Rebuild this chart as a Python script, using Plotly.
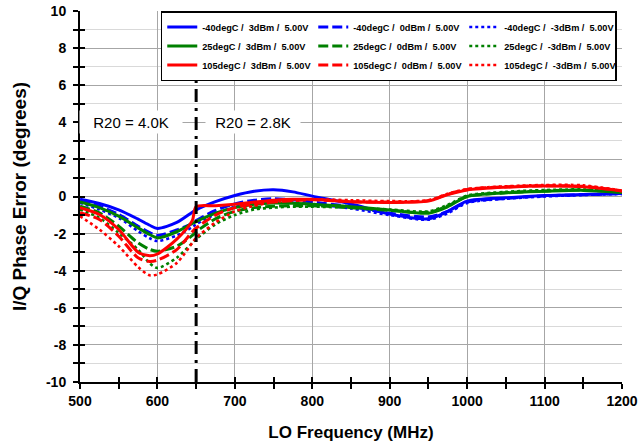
import plotly.graph_objects as go

freq = [500, 525, 550, 575, 590, 600, 625, 645, 650, 675, 700, 725, 750, 775, 800,
        850, 900, 950, 975, 1000, 1050, 1100, 1150, 1200]

m40_3 = [-0.15, -0.38, -0.72, -1.22, -1.55, -1.72, -1.40, -0.85, -0.72, -0.28, 0.05, 0.28, 0.36, 0.25, 0.02,
         -0.40, -0.95, -1.20, -0.80, -0.25, -0.07, 0.05, 0.11, 0.16]
m40_0 = [-0.25, -0.52, -0.97, -1.60, -1.95, -2.10, -1.80, -1.45, -1.30, -0.75, -0.40, -0.20, -0.12, -0.18, -0.30,
         -0.55, -0.90, -1.10, -0.80, -0.30, -0.10, 0.03, 0.10, 0.15]
m40_m3 = [-0.34, -0.70, -1.15, -1.87, -2.25, -2.40, -2.10, -1.65, -1.50, -0.95, -0.55, -0.35, -0.30, -0.32, -0.40,
          -0.65, -1.00, -1.25, -0.90, -0.35, -0.12, 0.00, 0.08, 0.14]
p25_3 = [-0.30, -0.60, -1.06, -1.69, -2.05, -2.23, -1.90, -1.45, -1.35, -0.90, -0.60, -0.42, -0.35, -0.37, -0.42,
         -0.55, -0.73, -0.90, -0.55, 0.00, 0.20, 0.28, 0.33, 0.22]
p25_0 = [-0.52, -0.88, -1.60, -2.50, -2.85, -2.95, -2.68, -2.10, -1.90, -1.20, -0.80, -0.60, -0.52, -0.50, -0.50,
         -0.60, -0.75, -0.85, -0.50, 0.00, 0.20, 0.30, 0.35, 0.22]
p25_m3 = [-0.70, -1.15, -1.96, -2.86, -3.60, -3.85, -3.30, -2.50, -2.30, -1.50, -1.00, -0.70, -0.60, -0.55, -0.55,
          -0.60, -0.70, -0.80, -0.45, 0.05, 0.25, 0.35, 0.38, 0.24]
p105_3 = [-0.60, -0.97, -1.78, -3.00, -3.20, -3.10, -2.30, -1.30, -0.55, -0.50, -0.42, -0.30, -0.20, -0.15, -0.15,
          -0.28, -0.32, -0.25, 0.10, 0.35, 0.50, 0.56, 0.52, 0.30]
p105_0 = [-0.88, -1.24, -2.14, -3.30, -3.50, -3.43, -2.86, -1.90, -1.70, -1.00, -0.60, -0.40, -0.30, -0.22, -0.18,
          -0.28, -0.30, -0.22, 0.12, 0.38, 0.52, 0.58, 0.55, 0.30]
p105_m3 = [-1.06, -1.78, -2.68, -3.80, -4.25, -4.20, -3.58, -2.50, -2.23, -1.40, -0.80, -0.50, -0.30, -0.20, -0.15,
           -0.20, -0.25, -0.20, 0.15, 0.40, 0.55, 0.62, 0.60, 0.32]

series_names = [
    "-40degC /  3dBm /  5.00V", "-40degC /  0dBm /  5.00V", "-40degC /  -3dBm /  5.00V",
    "25degC /  3dBm /  5.00V", "25degC /  0dBm /  5.00V", "25degC /  -3dBm /  5.00V",
    "105degC /  3dBm /  5.00V", "105degC /  0dBm /  5.00V", "105degC /  -3dBm /  5.00V",
]
series_values = [m40_3, m40_0, m40_m3, p25_3, p25_0, p25_m3, p105_3, p105_0, p105_m3]
series_colors = ["#0000FF"] * 3 + ["#008000"] * 3 + ["#FF0000"] * 3
series_dash = ["solid", "10px,4px", "3px,3px"] * 3
series_width = [3, 3, 2.6] * 3

x_ticks = [500, 600, 700, 800, 900, 1000, 1100, 1200]
y_ticks = [-10, -8, -6, -4, -2, 0, 2, 4, 6, 8, 10]

font = "Liberation Sans, Arial, sans-serif"

fig = go.Figure()
for name, vals, col, dsh, w in zip(series_names, series_values, series_colors, series_dash, series_width):
    fig.add_trace(go.Scatter(
        x=freq, y=vals, name=name, mode="lines",
        line=dict(color=col, dash=dsh, width=w, shape="spline", smoothing=0.8),
    ))

# helper overlay axes for the inward half of the crossing ticks
fig.add_trace(go.Scatter(x=[None], y=[None], xaxis="x2", yaxis="y2", showlegend=False, hoverinfo="skip"))

fig.add_shape(type="line", x0=650, x1=650, y0=-10, y1=10, xref="x", yref="y",
              line=dict(color="black", width=3, dash="13px,6px,3px,6px"))

fig.add_annotation(x=566, y=4, xref="x", yref="y", text="R20 = 4.0K", showarrow=False,
                   font=dict(family=font, size=15, color="black"), bgcolor="white", width=100, height=20)
fig.add_annotation(x=723, y=4, xref="x", yref="y", text="R20 = 2.8K", showarrow=False,
                   font=dict(family=font, size=15, color="black"), bgcolor="white", width=92, height=20)

tickfont = dict(family=font, size=14, color="black", weight="bold")

fig.update_layout(
    width=642, height=446,
    margin=dict(l=80, r=20, t=11, b=64),
    paper_bgcolor="white", plot_bgcolor="white",
    font=dict(family=font, color="black"),
    showlegend=True,
    legend=dict(
        orientation="h", x=0.149, xanchor="left", y=1, yanchor="top",
        bgcolor="white", bordercolor="black", borderwidth=1.5,
        font=dict(family=font, size=9.2, color="black", weight="bold"),
        entrywidth=106, entrywidthmode="pixels", itemwidth=30,
        traceorder="normal",
    ),
    xaxis=dict(
        range=[500, 1200], tickvals=x_ticks, ticktext=[str(v) for v in x_ticks],
        showgrid=True, gridcolor="#a6a6a6", gridwidth=1,
        showline=True, linecolor="black", linewidth=2,
        ticks="outside", ticklen=5, tickwidth=2, tickcolor="black",
        minor=dict(dtick=50, tick0=500, ticks="outside", ticklen=5, tickwidth=2, tickcolor="black", showgrid=False),
        tickfont=tickfont, zeroline=False, automargin=False,
        title=dict(text="LO Frequency (MHz)", font=dict(family=font, size=17, color="black", weight="bold"), standoff=18),
    ),
    yaxis=dict(
        range=[-10, 10], tickvals=y_ticks, ticktext=[str(v) for v in y_ticks],
        showgrid=True, gridcolor="#a6a6a6", gridwidth=1,
        showline=True, linecolor="black", linewidth=2,
        ticks="outside", ticklen=5, tickwidth=2, tickcolor="black",
        minor=dict(dtick=1, tick0=0, ticks="outside", ticklen=5, tickwidth=2, tickcolor="black",
                   showgrid=True, gridcolor="#d9d9d9", gridwidth=1),
        tickfont=tickfont, zeroline=False, automargin=False, ticklabelstandoff=4,
        title=dict(text="I/Q Phase Error (degrees)", font=dict(family=font, size=19, color="black", weight="bold"), standoff=14),
    ),
    xaxis2=dict(
        overlaying="x", anchor="y2", range=[500, 1200], tickvals=x_ticks, showticklabels=False,
        showgrid=False, zeroline=False, showline=False, automargin=False,
        ticks="inside", ticklen=5, tickwidth=2, tickcolor="black",
        minor=dict(dtick=50, tick0=500, ticks="inside", ticklen=5, tickwidth=2, tickcolor="black", showgrid=False),
    ),
    yaxis2=dict(
        overlaying="y", anchor="x2", range=[-10, 10], tickvals=y_ticks, showticklabels=False,
        showgrid=False, zeroline=False, showline=False, automargin=False,
        ticks="inside", ticklen=5, tickwidth=2, tickcolor="black",
        minor=dict(dtick=1, tick0=0, ticks="inside", ticklen=5, tickwidth=2, tickcolor="black", showgrid=False),
    ),
)

fig.write_html("out.html", config={"displayModeBar": False},
               post_script="document.body.style.margin='0';document.body.style.overflow='hidden';")
